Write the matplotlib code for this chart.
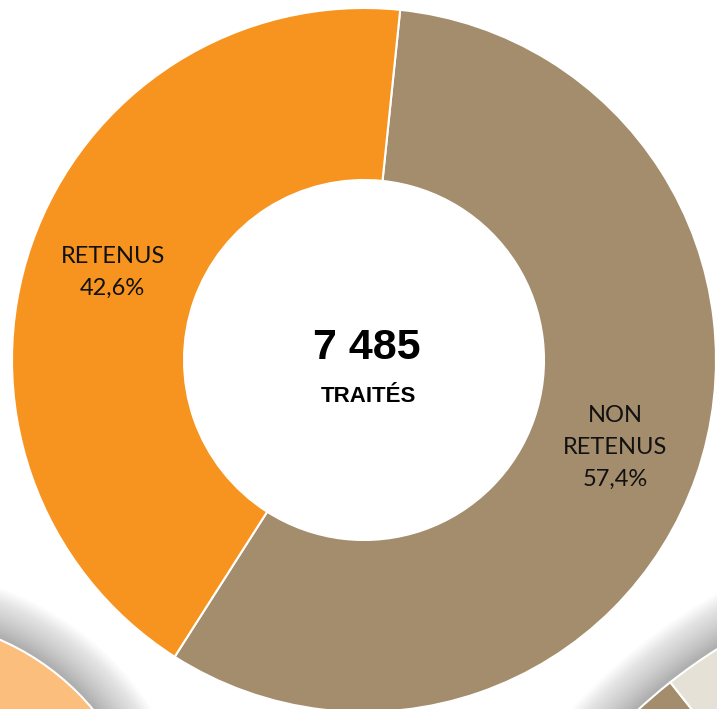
import matplotlib.pyplot as plt

# main donut
labels = ["NON\nRETENUS", "RETENUS"]
shares = [57.4, 42.6]
colors = ["#A38D6D", "#F7941F"]
total = "7 485"
total_label = "TRAITÉS"

# neighbouring donuts peeking in at the bottom corners
left_shares = [100]
left_colors = ["#FBBE7D"]
right_shares = [45, 55]
right_colors = ["#A38D6D", "#E5E1D6"]


def pct(v):
    return f"{v:.1f}%".replace(".", ",")


def shadow(ax, center, radius, width=48, steps=40):
    # stacked faint circles -> soft gradient, darkest at the edge
    for i in range(steps):
        r = radius + width * (1 - i / steps) ** 1.3
        ax.add_patch(plt.Circle(center, r, color="#7f7f7f", alpha=0.02,
                                lw=0, zorder=1))


def main():
    fig = plt.figure(figsize=(7.17, 7.09), dpi=100)
    ax = fig.add_axes([0, 0, 1, 1])

    # corner neighbours (image y flipped: y = 709 - y_img)
    left_c, left_r = (-100, -161), 251
    right_c, right_r = (1005, -397), 540
    shadow(ax, left_c, left_r)
    shadow(ax, right_c, right_r)
    w, _ = ax.pie(left_shares, colors=left_colors, center=left_c, radius=left_r,
                  startangle=90, wedgeprops=dict(edgecolor="white", linewidth=1.5))
    for p in w:
        p.set_zorder(2)
    w, _ = ax.pie(right_shares, colors=right_colors, center=right_c, radius=right_r,
                  startangle=128.3, wedgeprops=dict(edgecolor="white", linewidth=1.5))
    for p in w:
        p.set_zorder(2)

    center = (364, 349)
    outer, inner = 352, 180
    texts = [f"{l}\n{pct(v)}" for l, v in zip(labels, shares)]
    w, t = ax.pie(
        shares,
        labels=texts,
        colors=colors,
        center=center,
        radius=outer,
        startangle=84.1,
        counterclock=False,
        labeldistance=(outer + inner) / 2 / outer,
        wedgeprops=dict(width=outer - inner, edgecolor="white", linewidth=1.5),
        textprops=dict(ha="center", va="center", fontsize=17, family="Lato",
                       color="#111111", linespacing=1.65),
    )
    for p in w:
        p.set_zorder(3)
    for tx in t:
        tx.set_zorder(4)

    ax.text(367, 709 - 348, total, ha="center", va="center", fontsize=31,
            fontweight="bold", family="Liberation Sans", color="black", zorder=5)
    ax.text(368, 709 - 397, total_label, ha="center", va="center", fontsize=16,
            fontweight="bold", family="Liberation Sans", color="black", zorder=5)

    ax.set_xlim(0, 717)
    ax.set_ylim(0, 709)
    ax.set_aspect("auto")
    ax.axis("off")
    fig.savefig("out.png", dpi=100)


if __name__ == "__main__":
    main()
